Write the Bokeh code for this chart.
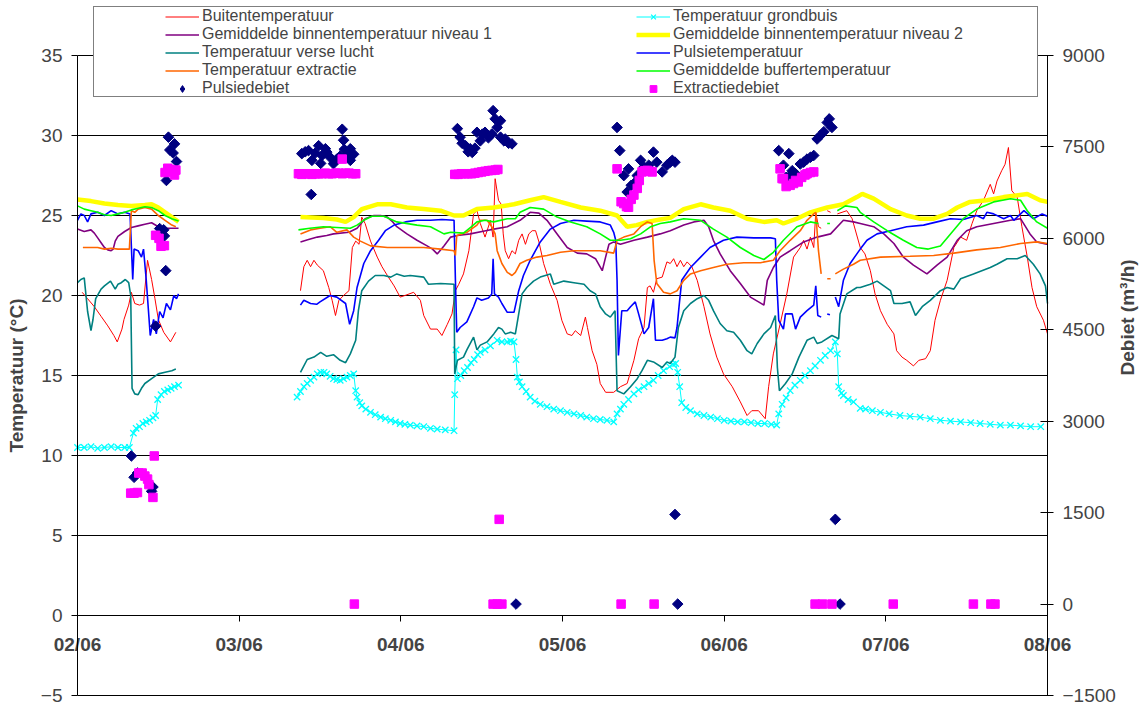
import math
from bokeh.plotting import figure
from bokeh.models import Range1d, LinearAxis, FixedTicker, Legend, LegendItem, ColumnDataSource
from bokeh.embed import file_html
from bokeh.resources import INLINE

nan = float("nan")

# ---------------- axes / ticks ----------------
x_ticks = [0, 24, 48, 72, 96, 120, 144]          # hours since 02/06 00:00
x_labels = ["02/06", "03/06", "04/06", "05/06", "06/06", "07/06", "08/06"]
temp_ticks = [-5, 0, 5, 10, 15, 20, 25, 30, 35]
debiet_ticks = [-1500, 0, 1500, 3000, 4500, 6000, 7500, 9000]

# ---------------- series (hour, value) ----------------
buiten = [
(0.7,20.2),(1.5,19.8),(2.5,19.3),(3.5,18.7),(4.5,18.1),(5.4,17.5),(5.9,17.1),(6.6,17.9),(6.9,18.5),(7.6,19.4),(8.0,20.2),(8.5,19.5),(9.2,19.4),(9.8,19.5),(10.4,22.2),(11.0,21.0),(11.5,19.8),(12.0,18.5),(12.8,17.7),(13.8,17.1),(14.6,17.7),
(24.0,nan),
(33.1,20.3),(33.6,21.8),(34.1,22.2),(34.6,21.8),(35.1,22.2),(35.6,21.9),(36.5,21.55),(37.3,20.5),(37.8,19.7),(38.3,18.75),(38.8,19.7),(39.5,20.0),(40.3,20.3),(40.8,23.0),(41.3,23.4),(41.8,23.2),(42.2,24.9),(42.7,24.5),(43.5,23.4),(44.5,22.4),(45.2,21.8),(46.0,21.25),(47.0,20.6),(47.9,19.9),(48.6,20.0),(49.9,20.2),(50.9,19.7),(51.4,18.75),(52.4,17.9),(53.4,17.9),(54.1,17.5),(54.9,18.2),(55.6,18.85),(56.1,20.3),(56.6,20.7),(57.3,21.35),(58.1,22.8),(58.8,25.1),(59.3,25.3),(59.8,24.5),(60.5,23.65),(61.3,24.7),(61.7,23.65),(62.0,27.3),(62.5,25.95),(62.9,25.7),(63.2,23.85),(63.5,22.8),(64.0,22.3),(64.5,22.8),(65.0,22.6),(65.5,23.45),(66.0,23.85),(66.5,23.2),(67.0,23.85),(67.5,24.05),(68.0,24.05),(68.5,23.35),(69.2,22.0),(70.2,20.7),(71.2,19.7),(71.9,18.45),(72.7,17.6),(73.4,17.5),(73.9,17.8),(74.7,17.5),(75.4,18.65),(75.7,18.0),(76.4,16.55),(77.1,15.7),(77.6,14.5),(78.4,13.95),(79.6,13.95),(80.6,14.3),(81.6,14.5),(82.6,15.95),(83.3,17.3),(84.1,18.0),(84.6,20.5),(85.0,20.6),(85.5,20.2),(86.0,21.05),(86.8,21.15),(87.5,22.1),(88.0,22.0),(88.5,22.3),(89.0,21.8),(89.5,22.2),(90.0,21.8),(90.5,22.1),(91.2,21.8),(92.0,20.95),(93.0,19.3),(93.9,17.6),(94.9,16.15),(95.9,15.1),(97.2,14.3),(98.4,13.35),(99.4,12.5),(100.1,12.8),(101.1,12.8),(102.1,12.3),(102.6,14.3),(103.3,16.35),(104.3,18.2),(105.3,20.1),(106.3,22.4),(107.3,23.0),(107.8,23.45),(108.3,22.9),(108.8,23.65),(109.3,23.0),(109.6,25.2),(110.0,24.3),(110.4,24.2),(110.8,nan),(111.3,25.3),(111.8,25.2),(112.2,nan),(112.8,25.1),(114.2,25.3),(115.0,24.8),(116.2,23.0),(116.9,22.6),(117.7,21.55),(118.4,20.1),(119.2,19.05),(120.2,18.2),(121.2,17.6),(121.6,16.55),(122.4,16.15),(123.1,15.95),(124.1,15.6),(124.9,15.95),(125.9,16.05),(126.6,16.55),(127.3,18.45),(128.1,19.7),(129.1,20.95),(130.1,23.0),(131.1,23.65),(132.0,23.45),(132.8,24.5),(133.5,25.3),(134.5,25.95),(135.5,26.95),(136.0,26.35),(136.5,27.15),(137.2,27.8),(137.7,28.2),(138.2,29.25),(138.7,26.55),(139.5,26.15),(140.2,24.3),(141.0,22.4),(141.7,20.5),(142.4,19.3),(143.4,18.45),(144.0,17.6)]

grondbuis = [
(0,10.5),(1,10.5),(2,10.55),(3,10.45),(4,10.5),(5,10.55),(6,10.5),(7,10.5),(7.7,10.5),(8.3,11.4),(8.7,11.7),(9.2,11.8),(9.7,12.0),(10.2,12.1),(10.7,12.2),(11.2,12.35),(11.6,12.5),(11.9,13.5),(12.4,13.8),(12.9,14.0),(13.4,14.1),(13.9,14.2),(14.4,14.3),(15.0,14.4),
(24.0,nan),
(32.6,13.65),(33.1,14.0),(33.6,14.3),(34.1,14.5),(34.6,14.7),(35.1,14.9),(35.6,15.1),(36.1,15.2),(36.6,15.2),(37.0,15.1),(37.5,14.95),(38.0,14.8),(38.5,14.75),(39.0,14.7),(39.5,14.8),(40.0,14.9),(40.5,15.0),(41.0,15.1),(41.3,14.05),(41.5,13.65),(41.9,13.3),(42.2,13.1),(42.8,12.9),(43.5,12.7),(44.2,12.55),(45.0,12.4),(45.7,12.3),(46.5,12.2),(47.2,12.1),(47.9,12.0),(48.6,11.95),(49.4,11.9),(50.4,11.85),(51.4,11.8),(52.4,11.7),(53.4,11.65),(54.6,11.6),(55.9,11.55),(56.0,13.8),(56.2,16.6),(56.4,14.8),(56.9,15.0),(57.4,15.3),(57.9,15.5),(58.4,15.8),(58.9,16.0),(59.4,16.3),(59.8,16.45),(60.5,16.6),(61.3,16.85),(62.3,17.2),(63.0,17.1),(63.8,17.1),(64.3,17.15),(64.8,17.1),(65.1,16.0),(65.3,14.9),(65.6,14.6),(66.0,14.3),(66.6,14.0),(67.2,13.65),(67.9,13.4),(68.7,13.2),(69.7,13.05),(70.7,12.9),(71.7,12.8),(72.7,12.7),(73.7,12.6),(74.7,12.5),(75.6,12.4),(76.6,12.3),(77.6,12.25),(78.6,12.2),(79.6,12.1),(80.1,12.6),(80.6,12.9),(81.1,13.2),(81.8,13.5),(82.6,13.85),(83.3,14.1),(84.1,14.3),(84.8,14.5),(85.5,14.7),(86.2,15.0),(87.0,15.3),(87.9,15.55),(88.4,15.7),(88.8,15.75),(89.1,15.2),(89.4,14.3),(89.7,13.3),(90.3,13.0),(91.0,12.8),(92.0,12.6),(93.0,12.5),(94.0,12.4),(95.0,12.3),(96.0,12.2),(97.0,12.15),(98.0,12.1),(99.0,12.1),(100.0,12.05),(101.0,12.0),(102.0,12.0),(103.0,11.95),(103.8,11.9),(104.1,12.6),(104.6,13.2),(105.2,13.6),(105.8,14.05),(106.5,14.4),(107.3,14.7),(108.0,15.0),(108.8,15.3),(109.5,15.6),(110.3,15.95),(111.0,16.25),(111.8,16.55),(112.5,17.1),(112.8,16.35),(113.0,14.3),(113.4,13.9),(113.7,13.75),(114.4,13.5),(115.2,13.35),(116.2,12.95),(117.0,12.9),(118.0,12.8),(119.2,12.7),(120.5,12.6),(122.1,12.5),(123.6,12.45),(125.1,12.4),(126.6,12.3),(128.1,12.2),(129.6,12.15),(131.1,12.1),(132.6,12.05),(134.0,12.0),(135.5,11.95),(137.0,11.9),(138.5,11.9),(140.0,11.85),(141.5,11.8),(143.0,11.8)]

niveau1 = [
(0,24.15),(1,24.0),(2,24.1),(2.5,23.9),(3,23.6),(3.5,23.3),(4,23.0),(4.5,22.85),(5.0,22.8),(5.3,22.9),(5.6,23.4),(6.0,23.7),(7.0,24.0),(8.0,24.25),(9.0,24.35),(10.0,24.45),(11.0,24.55),(12.0,24.3),(13.0,24.2),(14.0,24.2),(15.0,24.2),
(24.0,nan),
(33.1,23.35),(34.3,23.5),(35.6,23.65),(37.0,23.75),(38.0,23.85),(40.3,23.95),(41.5,24.2),(42.1,24.5),(42.7,24.8),(44.0,25.0),(45.0,25.0),(46.0,24.9),(46.8,24.6),(47.4,24.3),(48.9,23.85),(50.4,23.45),(51.9,23.1),(52.7,22.9),(53.4,22.6),(54.4,23.1),(55.4,23.65),(56.4,23.75),(58.3,23.85),(60.6,24.05),(61.8,24.15),(63.8,24.3),(65.7,24.7),(67.2,25.2),(68.5,25.15),(69.7,24.7),(71.2,23.85),(72.7,23.0),(74.2,22.65),(75.6,22.6),(76.9,22.3),(77.9,21.55),(78.4,22.4),(78.9,23.2),(79.6,23.35),(80.6,23.2),(82.6,23.45),(84.6,23.65),(86.5,23.85),(88.0,24.05),(90.0,24.4),(91.5,24.6),(93.0,24.7),(93.7,24.3),(94.4,23.45),(95.4,22.6),(96.9,21.55),(98.4,20.75),(99.9,19.9),(101.1,19.6),(101.9,19.4),(102.4,20.95),(103.3,21.75),(104.3,22.4),(105.8,22.8),(107.8,23.35),(109.8,23.65),(111.8,23.85),(113.7,24.7),(115.2,24.6),(116.2,24.5),(118.2,24.3),(119.7,23.85),(121.2,23.25),(122.6,22.4),(124.1,21.9),(126.1,21.35),(127.6,21.9),(129.1,22.4),(130.6,23.45),(132.0,24.05),(133.5,24.3),(136.0,24.5),(138.5,24.7),(140.0,24.8),(141.4,23.85),(142.4,23.35),(143.9,23.2),(144.0,23.2)]

niveau2 = [
(0,26.0),(2,25.9),(4,25.75),(6,25.65),(8,25.6),(10,25.65),(11,25.7),(12,25.5),(13,25.2),(14,24.9),(15,24.6),
(24.0,nan),
(33.1,24.9),(36.5,24.85),(38.5,24.75),(39.8,24.6),(41.0,24.9),(42.2,25.4),(44.5,25.7),(46.5,25.7),(48.9,25.5),(51.4,25.4),(53.9,25.3),(55.9,25.0),(57.3,25.0),(59.3,25.4),(61.8,25.5),(64.8,25.7),(67.2,25.95),(69.2,26.15),(71.7,25.85),(74.7,25.5),(77.6,25.3),(80.1,25.0),(81.6,24.3),(83.0,24.4),(84.6,24.6),(86.5,24.75),(88.0,24.85),(90.0,25.4),(92.5,25.7),(94.4,25.5),(96.9,25.3),(99.4,24.8),(101.9,24.6),(103.8,24.7),(104.8,24.5),(106.8,24.8),(108.8,25.2),(111.3,25.5),(113.7,25.7),(115.7,26.15),(116.5,26.35),(118.2,26.05),(120.7,25.4),(123.1,25.0),(125.1,24.8),(127.1,24.8),(129.1,25.1),(130.6,25.5),(132.5,25.85),(135.0,25.95),(137.5,26.15),(141.0,26.35),(142.9,25.95),(144.0,25.85)]

verse_lucht = [
(0,20.8),(0.5,21.0),(1.0,21.1),(1.5,19.0),(2.0,17.8),(2.3,18.5),(2.7,19.8),(3.5,20.4),(4.0,20.6),(4.9,20.9),(5.6,20.4),(6.0,20.7),(6.5,20.8),(7.1,21.0),(7.6,20.8),(7.9,20.0),(8.1,14.2),(8.5,13.85),(9.0,13.8),(9.5,14.2),(10.0,14.5),(11.0,14.8),(12.0,15.1),(13.0,15.2),(14.0,15.3),(14.6,15.4),
(24.0,nan),
(33.1,15.2),(34.1,16.0),(35.1,16.15),(36.1,16.45),(37.0,16.2),(38.0,16.3),(39.0,15.95),(39.8,15.8),(40.5,16.35),(41.3,17.2),(41.7,19.05),(42.2,20.3),(43.2,20.9),(44.2,21.25),(45.5,21.25),(46.5,21.15),(47.4,21.35),(48.5,21.2),(49.4,21.25),(51.4,21.15),(52.1,20.7),(53.9,20.75),(55.9,20.7),(56.0,15.1),(56.4,15.95),(57.3,16.15),(57.8,16.6),(58.8,17.4),(59.3,16.6),(59.8,16.9),(60.8,17.1),(61.8,17.6),(62.5,18.0),(63.0,17.9),(63.5,17.6),(64.3,17.7),(65.0,17.6),(65.5,18.85),(66.0,20.1),(66.7,20.5),(67.7,20.9),(68.7,21.15),(70.2,21.35),(70.7,20.7),(72.2,20.9),(73.7,20.8),(75.2,20.7),(76.1,20.3),(76.9,20.1),(77.6,19.3),(78.4,18.85),(79.1,18.65),(79.8,19.05),(80.1,14.05),(81.1,13.85),(82.1,14.3),(83.1,14.8),(83.8,15.3),(84.6,15.95),(85.5,15.85),(86.8,15.5),(87.5,15.85),(88.0,15.75),(88.7,16.15),(89.2,18.0),(90.0,19.05),(91.0,19.5),(92.0,19.8),(93.0,20.0),(93.7,19.7),(94.4,19.05),(95.4,18.25),(96.4,17.8),(97.4,17.7),(98.4,17.2),(99.4,16.55),(100.1,16.35),(100.9,17.0),(101.9,17.6),(102.9,18.0),(103.6,18.75),(103.9,15.5),(104.2,14.05),(105.1,14.5),(106.1,15.1),(107.1,16.15),(108.3,17.2),(109.3,17.4),(109.8,17.0),(110.5,17.1),(112.0,17.5),(113.0,17.3),(113.2,18.85),(114.2,20.1),(115.7,20.5),(116.2,20.5),(117.7,20.7),(118.7,20.9),(119.7,20.6),(120.7,20.3),(121.2,19.5),(122.4,19.5),(123.6,19.6),(124.4,18.75),(125.4,19.3),(126.6,19.7),(128.1,20.3),(129.1,20.5),(130.1,20.4),(131.1,21.05),(133.0,21.35),(135.5,21.75),(136.5,21.95),(138.0,22.3),(139.5,22.3),(140.7,22.5),(141.9,21.95),(142.9,21.35),(143.7,20.6),(144.0,19.5)]

pulsie_temp = [
(0,24.7),(0.5,25.1),(1,25.0),(1.5,24.6),(2,25.1),(3,25.2),(4,25.0),(5,25.3),(6,25.1),(7,25.2),(7.8,25.1),(8.2,21.0),(8.4,22.9),(9,22.8),(9.5,22.4),(9.8,22.9),(10.2,21.0),(10.8,17.5),(11.3,18.5),(11.7,17.6),(12.2,19.0),(12.7,18.6),(13.2,19.5),(13.8,19.1),(14.3,20.0),(14.7,19.8),(15.0,20.1),
(24.0,nan),
(33.1,19.4),(33.6,19.7),(34.6,19.5),(35.5,19.45),(36.0,19.6),(37.5,20.0),(38.5,19.9),(39.8,19.5),(40.4,18.2),(41.0,19.05),(41.5,20.5),(42.5,22.0),(43.5,22.8),(44.7,23.45),(45.7,24.05),(47.0,24.4),(48.7,24.6),(50.4,24.7),(52.4,24.7),(54.1,24.75),(55.9,24.7),(56.1,21.0),(56.3,17.7),(56.8,18.0),(57.8,18.35),(58.8,19.3),(59.3,19.85),(60.0,19.7),(61.0,19.85),(61.5,20.1),(61.7,22.3),(61.9,20.1),(62.5,19.9),(63.0,19.5),(63.8,18.95),(64.8,18.95),(65.5,20.3),(66.2,21.25),(67.2,22.2),(68.7,23.35),(70.2,24.15),(71.7,24.5),(73.7,24.7),(75.6,24.65),(77.6,24.6),(79.1,24.4),(79.6,23.95),(79.9,23.45),(80.1,20.95),(80.3,16.25),(80.8,19.05),(81.6,19.05),(82.1,19.3),(82.8,19.6),(83.3,18.85),(84.1,17.6),(84.8,18.0),(85.5,19.8),(85.8,17.2),(86.8,17.2),(87.5,17.3),(88.0,17.4),(88.7,17.35),(89.0,18.0),(89.3,19.3),(89.7,20.95),(91.0,21.75),(92.5,22.4),(93.9,23.0),(95.9,23.45),(97.9,23.65),(100.4,23.6),(102.9,23.6),(103.6,23.55),(103.8,20.95),(104.1,18.45),(104.8,17.9),(105.1,18.85),(106.1,18.85),(106.6,17.9),(107.3,18.65),(108.3,19.05),(109.3,19.4),(109.6,20.6),(109.9,18.75),(110.4,18.65),(110.9,nan),(111.3,18.85),(111.7,18.8),(112.1,nan),(112.5,19.9),(113.0,19.3),(113.7,20.95),(114.7,22.0),(115.7,22.6),(116.2,22.9),(117.2,23.45),(118.7,23.85),(120.7,24.05),(123.1,24.3),(125.6,24.4),(127.6,24.6),(129.6,24.8),(131.5,24.75),(133.5,25.0),(134.5,24.8),(135.0,25.2),(136.0,25.1),(137.5,24.8),(138.5,25.0),(139.0,24.7),(140.0,25.1),(140.5,25.3),(141.9,24.8),(143.2,25.1),(144.0,24.95)]

extractie_temp = [
(0.8,23.0),(2,23.0),(3,23.0),(4,22.9),(5,22.95),(6,22.9),(7,22.9),(7.7,22.9),(8.0,25.3),(8.5,25.2),(9,25.4),(10,25.5),(11,25.4),(11.5,25.2),(12,25.0),(13,24.7),(14,24.4),(14.6,24.3),
(24.0,nan),
(33.1,23.85),(34.6,24.1),(36.0,24.2),(37.5,24.3),(38.5,23.95),(40.0,24.1),(41.0,23.65),(42.0,23.4),(43.5,23.1),(46.0,23.0),(48.9,23.0),(51.4,23.0),(53.9,22.9),(55.9,22.8),(56.1,22.5),(56.3,23.75),(57.8,23.95),(59.3,24.4),(59.8,24.7),(60.8,24.7),(61.5,24.3),(62.0,23.85),(62.3,22.8),(63.0,22.0),(63.8,21.45),(64.5,21.25),(65.0,21.45),(65.7,22.0),(66.7,22.2),(68.2,22.4),(69.7,22.5),(71.7,22.7),(73.7,22.8),(75.6,22.8),(77.6,22.8),(79.6,22.65),(80.1,23.45),(81.1,23.65),(82.6,23.85),(83.6,24.3),(84.6,24.6),(85.3,24.5),(85.6,22.2),(86.0,20.75),(87.0,20.2),(88.0,20.1),(89.0,20.3),(90.0,20.95),(91.0,21.35),(92.5,21.55),(94.4,21.75),(96.4,21.95),(98.9,22.05),(101.4,22.05),(103.3,22.2),(104.3,22.8),(105.8,23.45),(107.3,24.05),(108.3,24.7),(109.3,25.1),(109.6,25.2),(110.0,22.8),(110.4,21.35),(110.8,nan),(111.3,21.05),(111.8,21.05),(112.1,nan),(112.5,21.35),(113.7,21.65),(115.2,21.95),(116.2,22.2),(119.2,22.4),(123.6,22.45),(127.1,22.5),(130.1,22.65),(133.5,22.85),(137.0,23.0),(140.0,23.25),(142.4,23.35),(144.0,23.25)]

buffer_temp = [
(0,25.6),(1,25.4),(2,25.3),(3,25.2),(4,25.05),(5,25.0),(6,25.1),(7,25.2),(8,25.35),(9,25.45),(10,25.55),(11,25.5),(12,25.3),(13,25.0),(14,24.8),(15,24.65),
(24.0,nan),
(32.8,24.1),(34.5,24.2),(36.5,24.3),(38.5,24.25),(40.5,24.2),(41.5,24.4),(42.5,24.7),(43.7,24.95),(45.5,24.95),(47.4,24.6),(50.4,24.4),(52.4,24.3),(54.4,23.85),(55.4,23.95),(57.3,23.9),(58.5,24.3),(59.3,24.6),(60.5,24.7),(61.8,24.6),(63.8,24.8),(65.0,24.8),(65.7,25.2),(67.2,25.5),(69.2,25.4),(71.2,24.9),(73.2,24.6),(75.6,24.3),(77.6,23.85),(79.1,23.45),(80.6,23.45),(82.1,23.55),(83.6,23.85),(85.1,24.3),(86.5,24.5),(88.0,24.6),(90.0,24.8),(92.5,24.7),(94.4,24.15),(96.4,23.65),(98.4,23.0),(100.4,22.5),(101.9,22.25),(103.3,22.7),(104.8,23.45),(106.8,24.3),(108.8,24.6),(110.0,24.5),(110.6,nan),(111.3,24.5),(111.7,24.5),(112.1,nan),(112.8,25.3),(114.0,25.6),(115.7,25.5),(116.2,25.2),(118.2,24.6),(120.2,24.05),(122.6,23.45),(124.6,23.0),(126.3,22.9),(128.1,23.1),(129.6,23.85),(131.5,24.8),(133.5,25.4),(136.0,25.85),(138.5,26.05),(140.0,25.95),(141.0,25.3),(142.4,24.6),(144.0,24.2)]

pulsiedebiet = [
(8.0,2430),(8.4,2080),(8.9,2150),(11.0,1850),(11.2,1920),(11.6,4560),(12.2,6160),(12.8,6140),(12.9,6040),(13.1,5470),(13.2,6950),(13.5,7660),(13.7,7450),(14.2,7400),(14.4,7550),(14.7,7260),
(33.3,7390),(33.8,7420),(34.3,7440),(34.7,6720),(34.8,7280),(35.3,7400),(35.8,7520),(36.1,7230),(36.3,7360),(36.8,7470),(37.0,7415),(37.5,7330),(38.0,7225),(38.5,7300),(39.0,7350),(39.3,7790),(39.5,7610),(39.6,7460),(40.1,7380),(40.5,7470),(40.5,7280),(41.0,7380),
(56.4,7800),(56.8,7660),(57.1,7560),(57.6,7520),(58.0,7420),(58.3,7470),(58.6,7410),(59.0,7480),(59.3,7740),(59.8,7600),(60.1,7710),(60.5,7740),(61.0,7650),(61.5,7710),(61.7,8095),(62.0,7960),(62.3,7820),(62.8,7930),(62.8,7660),(63.3,7600),(63.5,7630),(64.0,7560),(64.5,7550),
(80.1,7820),(80.5,7440),(81.1,7030),(81.6,6760),(81.8,7140),(82.2,6870),(82.6,6900),(83.1,7030),(83.6,7280),(84.1,7170),(84.8,7200),(85.5,7415),(86.0,7250),(86.8,7090),(87.5,7200),(88.0,7250),(88.3,7280),(88.7,7250),
(104.1,7440),(104.8,7200),(105.2,7000),(105.6,7390),(105.8,7030),(106.1,7110),(106.6,7060),(107.3,7220),(107.8,7250),(108.3,7300),(108.8,7330),(109.3,7360),(109.8,7630),(110.3,7690),(110.8,7750),(111.3,7900),(111.6,7960),(112.0,7820),
(88.7,1470),(112.5,1390),(65.1,0),(89.1,0),(113.2,0)]

extractiedebiet = [
(7.9,1820),(8.4,1820),(8.9,1830),(9.1,2150),(9.6,2150),(10.0,2100),(10.4,2050),(10.6,1960),(11.2,1750),(11.4,2430),
(11.6,6050),(12.1,6000),(12.4,5870),(12.9,5880),(13.0,7080),(13.4,7150),(13.8,7130),(14.2,7090),(14.4,7040),(14.6,7120),
(32.8,7060),(33.3,7050),(33.8,7060),(34.3,7060),(34.8,7050),(35.3,7060),(35.8,7060),(36.3,7060),(36.8,7070),(37.3,7060),(37.8,7060),(38.3,7070),(38.8,7070),(39.3,7060),(39.3,7300),(39.8,7070),(40.3,7070),(40.8,7060),(41.3,7060),(41.1,0),
(56.0,7050),(56.5,7050),(57.0,7060),(57.5,7060),(58.0,7060),(58.5,7060),(59.0,7070),(59.5,7080),(60.0,7090),(60.5,7100),(61.0,7110),(61.5,7115),(62.0,7120),(62.4,7130),(62.6,1390),(61.7,0),(62.3,0),(63.0,0),
(80.1,7140),(80.7,6600),(81.1,6570),(81.5,6520),(81.8,6510),(82.2,6640),(82.6,6710),(83.1,6820),(83.4,6950),(83.8,7090),(84.2,7110),(84.6,7115),(85.0,7100),(85.3,7090),(80.7,0),(85.6,0),
(104.3,7140),(104.6,6980),(104.8,6980),(105.2,6850),(105.8,6870),(106.3,6900),(106.6,6950),(107.0,6925),(107.5,7000),(108.0,7040),(108.3,7060),(108.8,7080),(109.3,7090),
(109.5,0),(110.6,0),(112.0,0),(121.1,0),(133.0,0),(135.6,0),(136.2,0)]

names = ["Buitentemperatuur", "Temperatuur grondbuis", "Gemiddelde binnentemperatuur niveau 1",
         "Gemiddelde binnentemperatuur niveau 2", "Temperatuur verse lucht", "Pulsietemperatuur",
         "Temperatuur extractie", "Gemiddelde buffertemperatuur", "Pulsiedebiet", "Extractiedebiet"]


def src(pairs):
    return ColumnDataSource(dict(x=[a for a, _ in pairs], y=[b for _, b in pairs]))


FONT = "Liberation Sans"

# ---------------- layout (pixels) ----------------
W, H = 1148, 706
PL, PR, PT, PB = 77, 1047, 55, 695          # plot-area edges on the canvas
xs, xe = x_ticks[0], x_ticks[-1]
ts, te = temp_ticks[0], temp_ticks[-1]
ds, de = debiet_ticks[0], debiet_ticks[-1]
hx = (xe - xs) / (PR - PL)
ht = (te - ts) / (PB - PT)
hd = (de - ds) / (PB - PT)

p = figure(width=W, height=H, output_backend="svg", toolbar_location=None,
           x_range=Range1d(xs - PL * hx, xe + (W - PR) * hx),
           y_range=Range1d(ts - (H - PB) * ht, te + PT * ht),
           x_axis_location=None, y_axis_location=None, min_border=0)
p.background_fill_color = "white"
p.border_fill_color = "white"
p.outline_line_color = None
p.xgrid.visible = False
p.ygrid.visible = False
p.extra_y_ranges = {"debiet": Range1d(ds - (H - PB) * hd, de + PT * hd)}

# horizontal grid lines across the plot area
p.segment(x0=[xs] * len(temp_ticks), x1=[xe] * len(temp_ticks), y0=temp_ticks, y1=temp_ticks,
          line_color="black", line_width=1)

# x axis crossing at 0 °C
xa = LinearAxis(ticker=FixedTicker(ticks=x_ticks), fixed_location=0, bounds=(xs, xe))
xa.major_label_overrides = {t: l for t, l in zip(x_ticks, x_labels)}
xa.major_tick_in = 0
xa.major_tick_out = 6
xa.minor_tick_line_color = None
xa.major_label_standoff = 12
xa.major_label_text_font = FONT
xa.major_label_text_font_size = "19px"
xa.major_label_text_font_style = "bold"
xa.axis_line_color = "black"
p.add_layout(xa, "below")

ya = LinearAxis(ticker=FixedTicker(ticks=temp_ticks), fixed_location=xs, bounds=(ts, te),
                axis_label="Temperatuur (°C)")
ya.axis_label_text_font = FONT
ya.axis_label_text_font_size = "19px"
ya.axis_label_text_font_style = "bold"
ya.axis_label_standoff = 11
ya.major_label_text_font = FONT
ya.major_label_text_font_size = "19px"
ya.major_label_standoff = 9
ya.major_tick_in = 0
ya.major_tick_out = 6
ya.minor_tick_line_color = None
p.add_layout(ya, "left")

ya2 = LinearAxis(y_range_name="debiet", ticker=FixedTicker(ticks=debiet_ticks),
                 fixed_location=xe, bounds=(ds, de), axis_label="Debiet (m³/h)")
ya2.axis_label_text_font = FONT
ya2.axis_label_text_font_size = "19px"
ya2.axis_label_text_font_style = "bold"
ya2.axis_label_standoff = 9
ya2.axis_label_orientation = math.pi / 2
ya2.major_label_text_font = FONT
ya2.major_label_text_font_size = "19px"
ya2.major_label_standoff = 9
ya2.major_tick_in = 7
ya2.major_tick_out = 6
ya2.minor_tick_line_color = None
p.add_layout(ya2, "right")

# ---------------- glyphs ----------------
r_buiten = p.line("x", "y", source=src(buiten), line_color="#FF0000", line_width=1)
r_grond_l = p.line("x", "y", source=src(grondbuis), line_color="#00FFFF", line_width=1)
r_grond_m = p.scatter("x", "y", source=src(grondbuis), marker="x", size=9, line_color="#00FFFF", line_width=1.3)
r_niv1 = p.line("x", "y", source=src(niveau1), line_color="#800080", line_width=1.6)
r_niv2 = p.line("x", "y", source=src(niveau2), line_color="#FFFF00", line_width=4.5)
r_verse = p.line("x", "y", source=src(verse_lucht), line_color="#008080", line_width=1.6)
r_puls = p.line("x", "y", source=src(pulsie_temp), line_color="#0000FF", line_width=1.6)
r_extr = p.line("x", "y", source=src(extractie_temp), line_color="#FF6600", line_width=1.6)
r_buf = p.line("x", "y", source=src(buffer_temp), line_color="#00FF00", line_width=1.6)
r_pdeb = p.scatter("x", "y", source=src(pulsiedebiet), y_range_name="debiet", marker="square",
                   angle=math.pi / 4, size=7.5, fill_color="#000080", line_color="#000080")
r_edeb = p.scatter("x", "y", source=src(extractiedebiet), y_range_name="debiet", marker="square",
                   size=8.5, fill_color="#FF00FF", line_color="#FF00FF")

# ---------------- legend ----------------
dummy = p.line(x=[], y=[], line_alpha=0)
# legend key only (a single NaN point: nothing is drawn in the plot)
r_pdeb_key = p.scatter(x=[nan], y=[nan], marker="diamond", size=12,
                       fill_color="#000080", line_color="#000080")

box = Legend(items=[LegendItem(label=" ", renderers=[dummy])], location=(93, H - 97),
             padding=0, margin=0, spacing=0, glyph_width=1, glyph_height=89,
             label_width=942, label_height=89, label_standoff=0,
             border_line_color="black", border_line_width=1,
             background_fill_color="white", background_fill_alpha=1)
p.add_layout(box)

common = dict(padding=0, margin=0, spacing=0, glyph_width=34, glyph_height=17,
              label_height=17, label_standoff=3, label_width=200,
              label_text_font=FONT, label_text_font_size="16px",
              border_line_alpha=0, background_fill_alpha=0)
leg1 = Legend(items=[LegendItem(label=names[0], renderers=[r_buiten]),
                     LegendItem(label=names[2], renderers=[r_niv1]),
                     LegendItem(label=names[4], renderers=[r_verse]),
                     LegendItem(label=names[6], renderers=[r_extr]),
                     LegendItem(label=names[8], renderers=[r_pdeb_key])],
              location=(165, H - 97), **common)
leg2 = Legend(items=[LegendItem(label=names[1], renderers=[r_grond_l, r_grond_m]),
                     LegendItem(label=names[3], renderers=[r_niv2]),
                     LegendItem(label=names[5], renderers=[r_puls]),
                     LegendItem(label=names[7], renderers=[r_buf]),
                     LegendItem(label=names[9], renderers=[r_edeb])],
              location=(636, H - 97), **common)
p.add_layout(leg1)
p.add_layout(leg2)

open("out.html", "w").write(file_html(p, INLINE))
